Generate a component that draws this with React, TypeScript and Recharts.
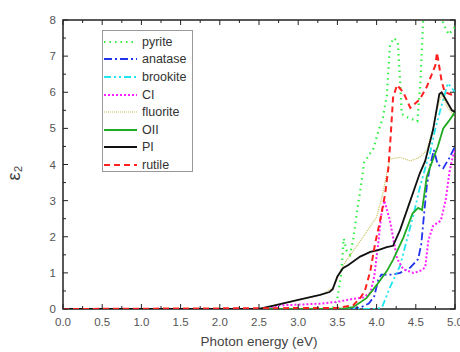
import React from "react";
import { LineChart, Line, XAxis, YAxis, ReferenceArea, Label } from "recharts";

// [photon energy (eV), eps2]
const pyrite = [[0,0],[2.5,0],[3.3,0],[3.45,0.05],[3.5,0.3],[3.55,1.0],[3.58,1.95],[3.62,1.6],[3.66,1.5],[3.7,1.9],[3.75,2.7],[3.8,3.4],[3.84,4.05],[3.9,4.25],[3.96,4.45],[4.02,4.9],[4.08,5.3],[4.13,5.9],[4.15,6.6],[4.17,7.3],[4.22,7.5],[4.27,7.4],[4.3,6.3],[4.32,5.4],[4.4,5.3],[4.52,5.2],[4.56,6.3],[4.6,8.3],[4.7,8.8],[4.8,8.4],[4.85,7.9],[4.92,7.6],[5.0,7.8]];
const anatase = [[0,0],[3.7,0],[3.8,0.05],[3.9,0.15],[3.97,0.35],[4.02,0.8],[4.06,0.95],[4.2,0.95],[4.3,1.0],[4.43,1.15],[4.53,1.38],[4.57,1.8],[4.6,2.5],[4.64,3.4],[4.68,3.95],[4.73,4.4],[4.78,4.0],[4.85,3.9],[4.92,4.15],[5.0,4.5]];
const brookite = [[0,0],[4.0,0],[4.07,0.05],[4.17,0.6],[4.3,1.2],[4.39,1.95],[4.47,2.6],[4.55,3.35],[4.64,4.05],[4.68,4.3],[4.75,5.0],[4.85,5.8],[4.91,6.25],[5.0,6.0]];
const ci = [[0,0],[2.6,0],[2.75,0.1],[3.0,0.12],[3.3,0.15],[3.5,0.2],[3.7,0.28],[3.83,0.32],[3.92,0.45],[3.97,0.9],[4.02,1.8],[4.06,2.6],[4.1,3.0],[4.17,2.45],[4.26,1.4],[4.34,1.1],[4.47,1.0],[4.55,1.05],[4.62,1.15],[4.66,1.9],[4.72,2.3],[4.82,2.45],[4.88,3.0],[4.93,3.8],[4.97,4.2],[5.0,4.4]];
const fluorite = [[0,0],[2.5,0],[2.7,0.1],[3.0,0.25],[3.3,0.4],[3.45,0.6],[3.55,1.1],[3.62,1.36],[3.83,2.0],[4.0,2.55],[4.08,3.2],[4.13,3.77],[4.17,4.15],[4.3,4.2],[4.43,4.1],[4.55,4.2],[4.64,4.4],[4.72,5.0],[4.78,5.6],[4.83,5.95],[4.9,5.6],[5.0,5.3]];
const oii = [[0,0],[3.4,0],[3.6,0.02],[3.7,0.05],[3.87,0.3],[4.0,0.66],[4.13,1.05],[4.21,1.36],[4.34,1.97],[4.46,2.65],[4.53,2.8],[4.58,2.74],[4.64,3.66],[4.72,4.15],[4.78,4.49],[4.85,5.0],[4.92,5.2],[5.0,5.45]];
const pi = [[0,0],[2.5,0],[2.7,0.1],[3.0,0.25],[3.28,0.39],[3.4,0.47],[3.44,0.55],[3.5,0.9],[3.57,1.13],[3.64,1.22],[3.79,1.45],[3.92,1.58],[4.02,1.63],[4.13,1.71],[4.21,1.75],[4.3,2.19],[4.43,3.0],[4.55,3.75],[4.62,4.1],[4.72,4.96],[4.8,5.95],[4.83,6.0],[4.9,5.73],[4.96,5.5],[5.0,5.45]];
const rutile = [[0,0],[3.5,0.03],[3.7,0.1],[3.79,0.3],[3.85,0.5],[3.92,1.05],[3.98,1.8],[4.04,2.4],[4.11,3.2],[4.15,3.9],[4.18,4.8],[4.21,5.85],[4.26,6.2],[4.34,6.0],[4.43,5.57],[4.55,5.8],[4.64,6.15],[4.75,6.75],[4.77,7.1],[4.83,6.3],[4.87,6.0],[5.0,5.9]];

const xMajor = [0, 0.5, 1, 1.5, 2, 2.5, 3, 3.5, 4, 4.5, 5];
const xMinor = [0.25, 0.75, 1.25, 1.75, 2.25, 2.75, 3.25, 3.75, 4.25, 4.75];
const yMajor = [0, 1, 2, 3, 4, 5, 6, 7, 8];
const yMinor = [0.5, 1.5, 2.5, 3.5, 4.5, 5.5, 6.5, 7.5];

const series = [
  { name: "pyrite", data: pyrite, color: "#33ee44", dash: "1.5 4", width: 2.2 },
  { name: "anatase", data: anatase, color: "#2233ee", dash: "8 3 2 3", width: 1.8 },
  { name: "brookite", data: brookite, color: "#22e6ee", dash: "7 3 2 3 2 3", width: 1.8 },
  { name: "CI", data: ci, color: "#ff22ff", dash: "2 2", width: 2 },
  { name: "fluorite", data: fluorite, color: "#c8bf5a", dash: "1 1", width: 1.2 },
  { name: "OII", data: oii, color: "#22aa22", dash: undefined, width: 1.8 },
  { name: "PI", data: pi, color: "#111111", dash: undefined, width: 1.8 },
  { name: "rutile", data: rutile, color: "#ff2020", dash: "6 4", width: 2 },
];

const W = 460, H = 352;
const LEFT = 63, RIGHT = 455, TOP = 20, BOTTOM = 309;
const font = "'Liberation Sans', Arial, sans-serif";

const XTick = (p: any) => {
  const v = p.payload.value;
  const major = xMajor.includes(v);
  const len = major ? 5 : 3;
  return (
    <g>
      <line x1={p.x} x2={p.x} y1={BOTTOM} y2={BOTTOM - len} stroke="#222" />
      <line x1={p.x} x2={p.x} y1={TOP} y2={TOP + len} stroke="#222" />
      {major && (
        <text x={p.x} y={BOTTOM + 17} textAnchor="middle" fontSize={11.5} fill="#555" fontFamily={font}>
          {v.toFixed(1)}
        </text>
      )}
    </g>
  );
};

const YTick = (p: any) => {
  const v = p.payload.value;
  const major = yMajor.includes(v);
  const len = major ? 5 : 3;
  return (
    <g>
      <line x1={LEFT} x2={LEFT + len} y1={p.y} y2={p.y} stroke="#222" />
      <line x1={RIGHT} x2={RIGHT - len} y1={p.y} y2={p.y} stroke="#222" />
      {major && (
        <text x={LEFT - 7} y={p.y + 4} textAnchor="end" fontSize={11.5} fill="#555" fontFamily={font}>
          {v}
        </text>
      )}
    </g>
  );
};

function LegendBox() {
  return (
    <div
      style={{
        position: "absolute", left: 102, top: 30, width: 91, height: 142,
        border: "1px solid #999", background: "#fff", fontFamily: font, fontSize: 12.5,
        color: "#333", boxSizing: "border-box", paddingTop: 2,
      }}
    >
      {series.map(s => (
        <div key={s.name} style={{ display: "flex", alignItems: "center", height: 17.6 }}>
          <svg width={36} height={10} style={{ marginLeft: 1 }}>
            <line x1={0} x2={33} y1={5} y2={5} stroke={s.color} strokeWidth={s.width} strokeDasharray={s.dash} />
          </svg>
          <span style={{ marginLeft: 2 }}>{s.name}</span>
        </div>
      ))}
    </div>
  );
}

export default function App() {
  return (
    <div style={{ position: "absolute", left: 0, top: 0, width: W, height: H, background: "#fff" }}>
      <LineChart width={W} height={H} margin={{ top: TOP, right: W - RIGHT, bottom: 0, left: 0 }}>
        <XAxis
          type="number" dataKey="0" domain={[0, 5]} ticks={[...xMajor, ...xMinor]} interval={0}
          allowDataOverflow axisLine={false} tickLine={false} tick={<XTick />} height={H - BOTTOM}
        >
          <Label value="Photon energy (eV)" position="insideBottom" offset={6} fontSize={13.5} fill="#444" fontFamily={font} />
        </XAxis>
        <YAxis
          type="number" domain={[0, 8]} ticks={[...yMajor, ...yMinor]} interval={0}
          allowDataOverflow axisLine={false} tickLine={false} tick={<YTick />} width={LEFT}
        >
          <Label value="ε₂" angle={-90} position="insideLeft" offset={14} dy={16} fontSize={18} fill="#444" fontFamily={font} />
        </YAxis>
        <ReferenceArea x1={0} x2={5} y1={0} y2={8} fill="none" fillOpacity={0} stroke="#222" strokeWidth={1.5} />
        {series.map(s => (
          <Line
            key={s.name} data={s.data} dataKey="1" name={s.name} type="linear" stroke={s.color}
            strokeWidth={s.width} strokeDasharray={s.dash} dot={false} activeDot={false}
            isAnimationActive={false}
          />
        ))}
      </LineChart>
      <LegendBox />
    </div>
  );
}
